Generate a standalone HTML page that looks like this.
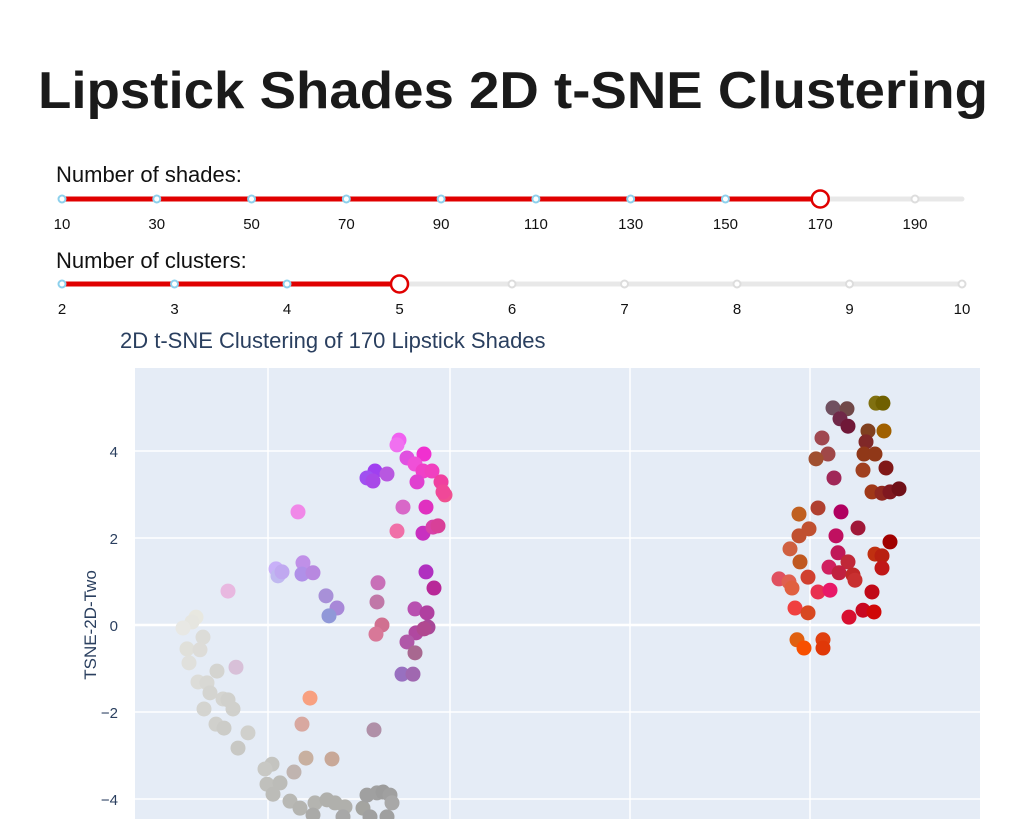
<!DOCTYPE html>
<html><head><meta charset="utf-8"><style>
body{margin:0;width:1024px;height:819px;overflow:hidden;background:#fff;font-family:"Liberation Sans",sans-serif}
svg text{font-family:"Liberation Sans",sans-serif}
</style></head><body>
<svg id="chart" width="1024" height="819">
<text x="38" y="108" font-size="52" font-weight="bold" fill="#1a1a1a" textLength="950" lengthAdjust="spacingAndGlyphs">Lipstick Shades 2D t-SNE Clustering</text>
<text x="56" y="182" font-size="22" fill="#111">Number of shades:</text>
<g id="s1"></g>
<text x="56" y="268" font-size="22" fill="#111">Number of clusters:</text>
<g id="s2"></g>
<text x="120" y="348" font-size="22" fill="#2a3f5f">2D t-SNE Clustering of 170 Lipstick Shades</text>
<rect x="135" y="368" width="845" height="460" fill="#e5ecf6"/>
<g id="grid"></g>
<g id="pts"></g>
<text transform="translate(96,625) rotate(-90)" text-anchor="middle" font-size="17" fill="#2a3f5f">TSNE-2D-Two</text>
</svg>
<script>
const shadeTicks=[10,30,50,70,90,110,130,150,170,190];
const clusterTicks=[2,3,4,5,6,7,8,9,10];
const shadeValue=170, clusterValue=5;
const yTicks=[4,2,0,-2,-4];
const xGrid=[-18.2,0,18,36];
const xs=[-5.1,-5.3,-4.3,-2.6,-3.5,-2.7,-1.8,-3.3,-0.9,-0.5,-0.7,-7.5,-8.3,-7.7,-6.3,-4.7,-2.4,-5.3,-2.7,-1.7,-1.2,-15.2,-17.4,-17.2,-16.8,-14.7,-14.8,-13.7,-12.4,-11.3,-12.1,-22.2,-2.4,-1.6,-7.2,-7.3,-3.5,-2.3,-6.8,-7.4,-3.4,-2.2,-2.6,-4.3,-3.5,-4.8,-3.7,-7.6,-14,-14.8,-14.4,-11.8,-21.4,
-25.4,-25.8,-26.7,-24.7,-26.3,-25,-26.1,-23.3,-25.2,-24.3,-24,-22.7,-22.2,-21.7,-24.6,-23.4,-22.6,-20.2,-21.2,-17.8,-18.5,-15.6,-18.3,-17,-17.7,-16,-15,-13.5,-12.3,-11.5,-10.5,-13.7,-8.7,-8.3,-7.3,-6.7,-6,-5.8,-10.7,-8,-6.3,
38.3,39.7,39,39.8,42.6,43.3,41.8,43.4,41.6,41.4,42.5,37.2,37.8,36.6,41.3,43.6,38.4,42.2,43.2,44,44.9,34.9,36.8,39.1,40.8,34.9,35.9,38.6,34,35,38.8,39.8,42.5,43.2,44,37.9,38.9,43.2,32.9,33.9,34.2,35.8,40.3,40.5,36.8,38,42.2,34.5,35.8,39.9,41.3,42.4,34.7,35.4,37.3,37.3];
const ys=[4.25,4.14,3.84,3.93,3.7,3.54,3.54,3.29,3.29,2.99,3.06,3.54,3.38,3.31,3.47,2.71,2.71,2.16,2.11,2.25,2.28,2.6,1.29,1.13,1.22,1.43,1.17,1.2,0.67,0.39,0.21,0.78,1.22,0.85,0.97,0.53,0.37,0.28,0,-0.21,-0.18,-0.05,-0.09,-0.39,-0.64,-1.13,-1.13,-2.41,-1.68,-2.28,-3.06,-3.08,-0.97,
0.18,0.07,-0.07,-0.28,-0.55,-0.57,-0.87,-1.06,-1.31,-1.33,-1.56,-1.7,-1.72,-1.93,-1.93,-2.28,-2.37,-2.48,-2.83,-3.2,-3.31,-3.38,-3.66,-3.63,-3.89,-4.05,-4.21,-4.09,-4.02,-4.09,-4.18,-4.37,-4.21,-3.91,-3.86,-3.84,-3.91,-4.09,-4.41,-4.41,-4.41,
4.99,4.97,4.74,4.57,5.1,5.1,4.46,4.46,4.21,3.93,3.93,4.3,3.93,3.82,3.56,3.61,3.38,3.06,3.03,3.06,3.13,2.55,2.69,2.6,2.23,2.05,2.21,2.05,1.75,1.45,1.66,1.45,1.63,1.59,1.91,1.33,1.2,1.31,1.06,0.99,0.85,1.1,1.15,1.03,0.76,0.8,0.76,0.39,0.28,0.18,0.34,0.3,-0.34,-0.53,-0.34,-0.53];
const colors=["#f060f0","#f070f0","#e050e0","#f030d0","#f050d8","#f040c8","#f040c0","#e040d0","#f040a0","#f05090","#f04898","#a040f0","#a050f0","#a848e8","#b858e0","#d868c8","#e030c0","#f070a8","#c830c0","#d840a8","#d84098","#f088e8","#c8b0f8","#c0b8f0","#c0a8f0","#c090e8","#b090e8","#b888e0","#a890d8","#a888d8","#9098d8","#e8b8e0","#b030c0","#b82898","#c870b8","#c078a8","#b850b0","#b040a0","#d07090","#d87898","#b048a0","#a84898","#b04890","#b058a8","#a86890","#9870c0","#a068b0","#b090a8","#f8a080","#d8a8a0","#c8b0a0","#c8a898","#d8c0d8",
"#e8e8e0","#e6e6e0","#e8e8e4","#dcdcd8","#e0e0da","#dddcd8","#e0e0dc","#d4d4d0","#dcdcd8","#d8d8d4","#d4d4d0","#d4d4d0","#d0d0cc","#d0d0cc","#d4d4d0","#d0d0cc","#ccccc8","#d0d0cc","#c8c8c4","#c4c4c0","#c8c8c4","#c0b4b0","#c0c0bc","#bcbcb8","#bcbcb8","#b8b8b4","#b4b4b0","#b4b4b0","#b0b0ac","#b0b0ac","#b0b0ac","#aaaaa8","#a4a4a0","#a0a0a0","#a0a0a0","#9c9c9c","#a0a0a0","#a8a8a8","#a8a8a8","#a0a0a0","#a0a0a0",
"#705060","#704848","#702848","#701838","#807010","#706000","#804020","#a06000","#802828","#903818","#903818","#a04850","#a04848","#a05030","#a04020","#801818","#a02858","#a03818","#902820","#801820","#701018","#c06020","#b04030","#b00060","#a01838","#c05030","#c05030","#c01060","#d06040","#c05820","#c01858","#c02838","#c03010","#b82010","#a00000","#d02060","#c02040","#c01818","#e05060","#e06050","#e06040","#d04030","#c02828","#c83030","#e83050","#e81868","#c00818","#f04040","#d84820","#d81030","#c80820","#d00808","#e06010","#f85000","#e04010","#e03808"];
const NS='http://www.w3.org/2000/svg';
function mk(t,a,p){const e=document.createElementNS(NS,t);for(const k in a)e.setAttribute(k,a[k]);p.appendChild(e);return e;}
const sx=v=>450+10*v, sy=v=>625-43.5*v;
const g=document.getElementById('grid');
xGrid.forEach(v=>{const l=mk('line',{x1:sx(v),x2:sx(v),y1:368,y2:819,stroke:'#fff','stroke-width':1.5},g);

});
yTicks.forEach(v=>{const l=mk('line',{x1:135,x2:980,y1:sy(v),y2:sy(v),stroke:'#fff','stroke-width':v==0?2.5:1.5},g);


const t=mk('text',{x:118,y:sy(v)+6,'text-anchor':'end','font-size':15,fill:'#2a3f5f'},g);
t.textContent=v<0?'\u2212'+(-v):v;

});
const pg=document.getElementById('pts');
xs.forEach((x,i)=>{const c=mk('circle',{cx:sx(x),cy:sy(ys[i]),r:7.5,fill:colors[i]},pg);

});
function slider(gid,ticks,val,ty,tickEnd){
 const G=document.getElementById(gid);const x0=62,x1=962;
 const px=i=>x0+(tickEnd-x0)*i/(ticks.length-1);const vi=ticks.indexOf(val);
 mk('line',{x1:x0,x2:x1,y1:ty,y2:ty,stroke:'#e8e8e8','stroke-width':5,'stroke-linecap':'round'},G);
 const r=mk('line',{x1:x0,x2:px(vi),y1:ty,y2:ty,stroke:'#e00000','stroke-width':5,'stroke-linecap':'round'},G);
 
 
 ticks.forEach((v,i)=>{
  if(i!=vi){const d=mk('circle',{cx:px(i),cy:ty,r:3.5,fill:'#fff',stroke:i<vi?'#8cd0ec':'#ddd','stroke-width':2},G);
  
  }
  const t=mk('text',{x:px(i),y:ty+30,'text-anchor':'middle','font-size':15,fill:'#111'},G);t.textContent=v;
  
  });
 const h=mk('circle',{cx:px(vi),cy:ty,r:8.5,fill:'#fff',stroke:'#e00000','stroke-width':2.5},G);
 
 
}
slider('s1',shadeTicks,shadeValue,199,915);
slider('s2',clusterTicks,clusterValue,284,962);
</script>
</body></html>
